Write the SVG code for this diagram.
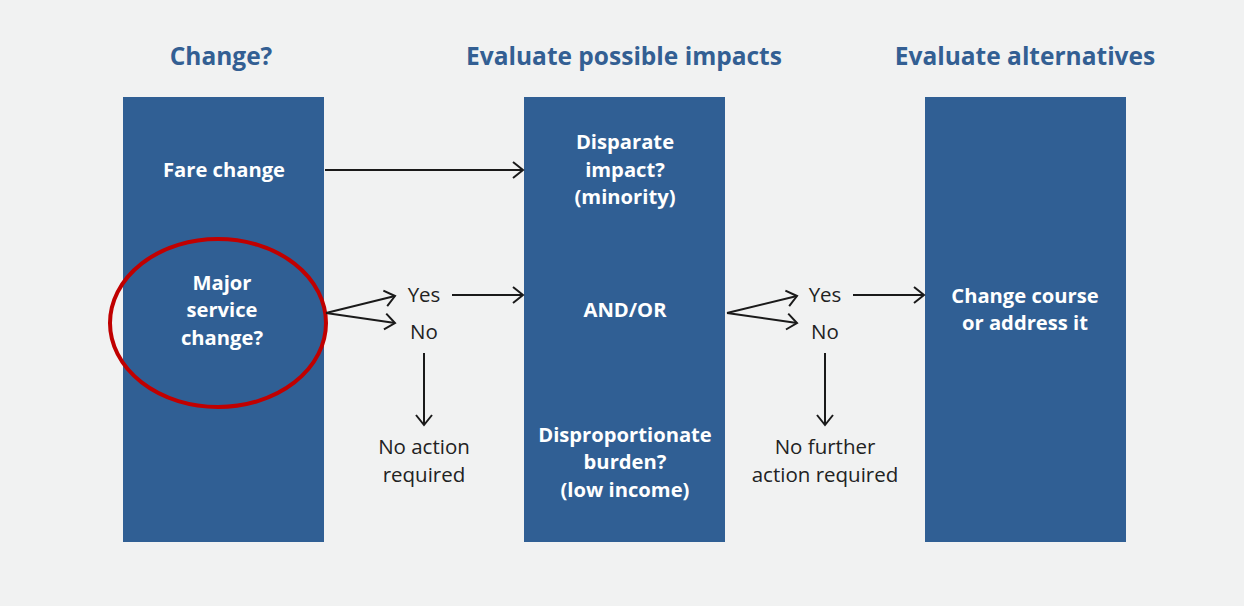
<svg xmlns="http://www.w3.org/2000/svg" width="1244" height="606" viewBox="0 0 1244 606">
<defs>
<style>
.bg{fill:#f1f2f2}
.box{fill:#305f94}
.hdr{font-family:"Open Sans","Liberation Sans",sans-serif;font-weight:700;font-size:24.5px;fill:#335f93;text-anchor:middle}
.wt{font-family:"Open Sans","Liberation Sans",sans-serif;font-weight:700;font-size:20.2px;fill:#ffffff;text-anchor:middle}
.lbl{font-family:"Open Sans","Liberation Sans",sans-serif;font-size:20.5px;fill:#222222;text-anchor:middle}
.ln{stroke:#1a1a1a;stroke-width:2;fill:none}
</style>
<marker id="ah" markerUnits="userSpaceOnUse" markerWidth="14" markerHeight="20" refX="12" refY="10" orient="auto">
<path d="M2,2 L12,10 L2,18" fill="none" stroke="#1a1a1a" stroke-width="2"/>
</marker>
</defs>
<rect class="bg" x="0" y="0" width="1244" height="606"/>
<g id="headers">
<text class="hdr" x="221" y="65">Change?</text>
<text class="hdr" x="624" y="65">Evaluate possible impacts</text>
<text class="hdr" x="1025" y="65">Evaluate alternatives</text>
</g>
<g id="change">
<rect class="box" x="123" y="97" width="201" height="445"/>
<text class="wt" x="224" y="177">Fare change</text>
<text class="wt" x="222" y="290">Major</text>
<text class="wt" x="222" y="317">service</text>
<text class="wt" x="222" y="345">change?</text>
<ellipse cx="218" cy="323" rx="108" ry="84" fill="none" stroke="#c00000" stroke-width="4"/>
</g>
<g id="impacts">
<rect class="box" x="524" y="97" width="201" height="445"/>
<text class="wt" x="625" y="149">Disparate</text>
<text class="wt" x="625" y="177">impact?</text>
<text class="wt" x="625" y="204">(minority)</text>
<text class="wt" x="625" y="317">AND/OR</text>
<text class="wt" x="625" y="442">Disproportionate</text>
<text class="wt" x="625" y="469">burden?</text>
<text class="wt" x="625" y="497">(low income)</text>
</g>
<g id="alternatives">
<rect class="box" x="925" y="97" width="201" height="445"/>
<text class="wt" x="1025" y="303">Change course</text>
<text class="wt" x="1025" y="330">or address it</text>
</g>
<g id="labels">
<text class="lbl" x="424" y="302">Yes</text>
<text class="lbl" x="424" y="339">No</text>
<text class="lbl" x="424" y="454">No action</text>
<text class="lbl" x="424" y="482">required</text>
<text class="lbl" x="825" y="302">Yes</text>
<text class="lbl" x="825" y="339">No</text>
<text class="lbl" x="825" y="454">No further</text>
<text class="lbl" x="825" y="482">action required</text>
</g>
<g id="connectors">
<line class="ln" x1="325" y1="170" x2="523" y2="170" marker-end="url(#ah)"/>
<line class="ln" x1="326" y1="313" x2="395" y2="296" marker-end="url(#ah)"/>
<line class="ln" x1="326" y1="313" x2="395" y2="323" marker-end="url(#ah)"/>
<line class="ln" x1="452" y1="295" x2="523" y2="295" marker-end="url(#ah)"/>
<line class="ln" x1="424" y1="353" x2="424" y2="425" marker-end="url(#ah)"/>
<line class="ln" x1="727" y1="313" x2="797" y2="296" marker-end="url(#ah)"/>
<line class="ln" x1="727" y1="313" x2="797" y2="323" marker-end="url(#ah)"/>
<line class="ln" x1="853" y1="295" x2="924" y2="295" marker-end="url(#ah)"/>
<line class="ln" x1="825" y1="353" x2="825" y2="425" marker-end="url(#ah)"/>
</g>
</svg>
